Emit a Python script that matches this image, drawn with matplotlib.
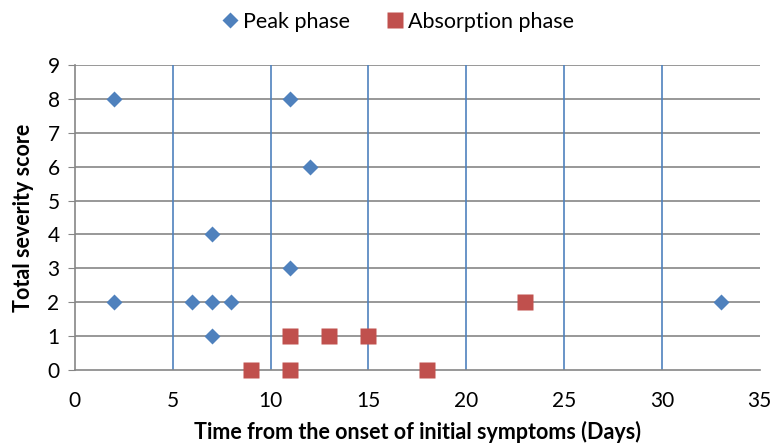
import matplotlib.pyplot as plt

plt.rcParams['font.family'] = ['Lato', 'DejaVu Sans']

peak_days = [2, 11, 12, 7, 11, 2, 6, 7, 8, 33, 7]
peak_score = [8, 8, 6, 4, 3, 2, 2, 2, 2, 2, 1]
absorb_days = [9, 11, 11, 13, 15, 18, 23]
absorb_score = [0, 0, 1, 1, 1, 0, 2]

fig = plt.figure(figsize=(7.72, 4.45), dpi=100)
ax = fig.add_axes([0.097, 0.1685, 0.887, 0.6855])

ax.set_xlim(0, 35)
ax.set_ylim(0, 9)
ax.set_xticks(range(0, 36, 5))
ax.set_yticks(range(0, 10))

# grid: gray horizontal, blue vertical
for y in range(1, 10):
    ax.axhline(y, color='#868686', lw=1.2, zorder=1)
for x in range(5, 35, 5):
    ax.axvline(x, color='#4F81BD', lw=1.2, zorder=1)

ax.plot(peak_days, peak_score, 'D', color='#4F81BD', ms=8.3, mec='none',
        label='Peak phase', zorder=3, clip_on=False)
ax.plot(absorb_days, absorb_score, 's', color='#C0504D', ms=11.5, mec='none',
        label='Absorption phase', zorder=3, clip_on=False)

for s in ['top', 'right']:
    ax.spines[s].set_visible(False)
for s in ['left', 'bottom']:
    ax.spines[s].set_color('#868686')
    ax.spines[s].set_linewidth(1.2)
ax.tick_params(axis='y', length=5, color='#868686', labelsize=15, pad=6)
ax.tick_params(axis='x', length=0, labelsize=15, pad=15)

ax.set_xlabel('Time from the onset of initial symptoms (Days)', fontsize=15.5,
              fontweight='bold', labelpad=7)
ax.set_ylabel('Total severity score', fontsize=15.5, fontweight='bold', labelpad=10)

ax.legend(loc='lower center', bbox_to_anchor=(0.47, 1.045), ncol=2, frameon=False,
          fontsize=15.5, handletextpad=0.1, columnspacing=1.6, handlelength=1.0)

fig.savefig('out.png', dpi=100)
